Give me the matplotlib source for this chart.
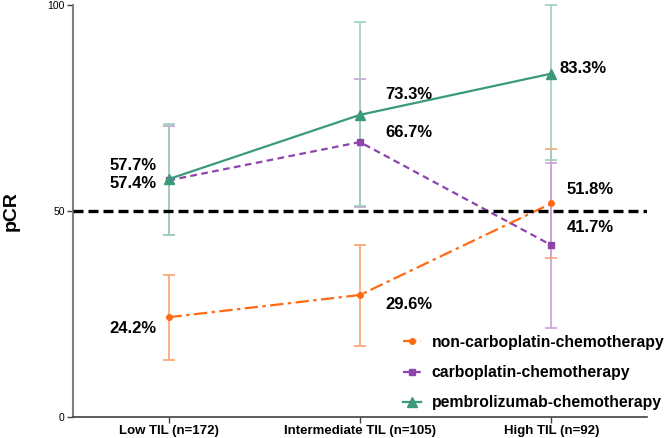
import matplotlib
matplotlib.use("Agg")
import matplotlib.pyplot as plt

plt.rcParams['font.family'] = ['Liberation Sans', 'DejaVu Sans']

categories = ["Low TIL (n=172)", "Intermediate TIL (n=105)", "High TIL (n=92)"]
series_names = ["non-carboplatin-chemotherapy", "carboplatin-chemotherapy", "pembrolizumab-chemotherapy"]
non_carbo = [24.2, 29.6, 51.8]
non_carbo_lo = [13.8, 17.3, 38.6]
non_carbo_hi = [34.4, 41.7, 65.0]
carbo = [57.4, 66.7, 41.7]
carbo_lo = [44.2, 51.0, 21.7]
carbo_hi = [70.6, 82.1, 61.5]
pembro = [57.7, 73.3, 83.3]
pembro_lo = [44.2, 51.1, 62.3]
pembro_hi = [71.1, 95.8, 100.0]
labels_non = ["24.2%", "29.6%", "51.8%"]
labels_carbo = ["57.4%", "66.7%", "41.7%"]
labels_pembro = ["57.7%", "73.3%", "83.3%"]
yticks = [0, 50, 100]

fig = plt.figure(figsize=(6.69, 4.38), dpi=100)
ax = fig.add_axes([0.109, 0.048, 0.858, 0.941])
x = list(range(len(categories)))

specs = [
    (non_carbo, non_carbo_lo, non_carbo_hi, "#FF6A13", "#F9A36E", "o", (0, (6, 2, 1.5, 2)), 4, series_names[0]),
    (carbo, carbo_lo, carbo_hi, "#8E44AD", "#C9A0DC", "s", (0, (3, 2)), 4, series_names[1]),
    (pembro, pembro_lo, pembro_hi, "#3A9A7A", "#9BD0BF", "^", "-", 7.5, series_names[2]),
]
handles = []
for vals, lo, hi, c, ec, m, ls, ms, name in specs:
    yerr = [[v - l for v, l in zip(vals, lo)], [h - v for v, h in zip(vals, hi)]]
    ax.errorbar(x, vals, yerr=yerr, fmt="none", ecolor=ec, elinewidth=1.2, capsize=4, capthick=1.2,
                zorder=2, clip_on=False)
    h, = ax.plot(x, vals, color=c, linestyle=ls, linewidth=1.6, marker=m, markersize=ms, zorder=3,
                 label=name, clip_on=False)
    handles.append(h)

# reference line at 50
ax.axhline(50, color="black", linestyle=(0, (3, 1.5)), linewidth=2.4, zorder=4)

kw = dict(fontsize=12, fontweight="bold", ha="center", va="center", textcoords="offset points")
ax.annotate(labels_pembro[0], (0, pembro[0]), xytext=(-25.5, 10), **kw)
ax.annotate(labels_carbo[0], (0, carbo[0]), xytext=(-25.5, -2), **kw)
ax.annotate(labels_non[0], (0, non_carbo[0]), xytext=(-25.5, -8), **kw)
ax.annotate(labels_pembro[1], (1, pembro[1]), xytext=(35, 15), **kw)
ax.annotate(labels_carbo[1], (1, carbo[1]), xytext=(35, 7), **kw)
ax.annotate(labels_non[1], (1, non_carbo[1]), xytext=(35, -6.5), **kw)
ax.annotate(labels_pembro[2], (2, pembro[2]), xytext=(23, 3.6), **kw)
ax.annotate(labels_non[2], (2, non_carbo[2]), xytext=(28, 10), **kw)
ax.annotate(labels_carbo[2], (2, carbo[2]), xytext=(28, 13), **kw)

ax.set_xlim(-0.5, 2.5)
ax.set_ylim(0, 100)
ax.set_yticks(yticks)
ax.set_yticklabels([str(t) for t in yticks], fontsize=7.5)
ax.set_xticks(x)
ax.set_xticklabels(categories, fontsize=9.5, fontweight="bold")
ax.set_ylabel("pCR", fontsize=14, fontweight="bold", labelpad=20)
for s in ["top", "right"]:
    ax.spines[s].set_visible(False)
ax.spines["left"].set_color("#808080")
ax.spines["left"].set_linewidth(1.5)
ax.spines["bottom"].set_color("#404040")
ax.spines["bottom"].set_linewidth(1.2)
ax.tick_params(axis="both", length=4, width=1, color="#404040", pad=2)

leg = fig.legend(handles=handles, loc="upper left", bbox_to_anchor=(0.603, 0.236), frameon=False,
                 prop=dict(size=11.3, weight="bold"), handlelength=1.15, labelspacing=0.98,
                 handletextpad=0.65, borderpad=0, borderaxespad=0)

fig.savefig("out.png", dpi=100)
